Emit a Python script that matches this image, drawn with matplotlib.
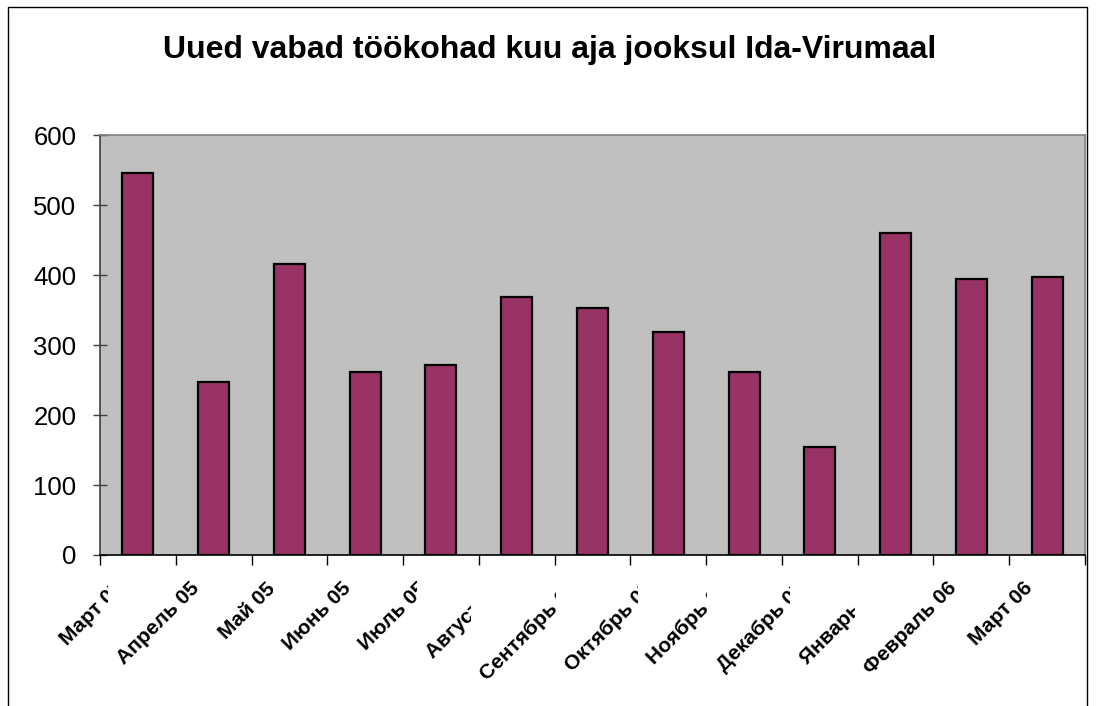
import matplotlib
matplotlib.use("Agg")
import matplotlib.pyplot as plt
import matplotlib.transforms as mtransforms
from matplotlib.patches import Rectangle

plt.rcParams['font.family'] = ['Liberation Sans', 'DejaVu Sans']

# data
months = ['Март 05', 'Апрель 05', 'Май 05', 'Июнь 05', 'Июль 05', 'Август 05',
          'Сентябрь 05', 'Октябрь 05', 'Ноябрь 05', 'Декабрь 05', 'Январь 06',
          'Февраль 06', 'Март 06']
jobs = [546, 247, 416, 261, 271, 369, 353, 318, 261, 154, 460, 394, 397]
yticks = [0, 100, 200, 300, 400, 500, 600]

W, H = 1096, 706
fig = plt.figure(figsize=(W / 100, H / 100), dpi=100)
fig.patch.set_facecolor('white')

# chart area border
fig.patches.append(Rectangle((8 / W, -0.01), (1087 - 8) / W, 1.01 - 7 / H,
                             transform=fig.transFigure, fill=False,
                             edgecolor='black', linewidth=1))

ax = fig.add_axes([100 / W, 1 - 555 / H, (1085 - 100) / W, (555 - 135) / H])
ax.set_facecolor('#C0C0C0')

x = list(range(len(months)))
ax.bar(x, jobs, width=0.41, color='#993366', edgecolor='black', linewidth=1.6)

ax.set_xlim(-0.5, len(months) - 0.5)
ax.set_ylim(0, 600)
ax.set_yticks(yticks)
ax.set_yticklabels([str(v) for v in yticks], fontsize=18.5)
ax.tick_params(axis='y', direction='inout', length=10, width=1, pad=12,
               color='#404040')

# category labels, tick marks at category boundaries
ax.set_xticks(x)
ax.set_xticklabels(months, rotation=45, ha='right', va='top',
                   rotation_mode='anchor', fontsize=15, fontweight='bold')
ax.tick_params(axis='x', which='major', length=0, pad=17)
shift = mtransforms.ScaledTranslation(-24 / 100, 0, fig.dpi_scale_trans)
for lbl in ax.get_xticklabels():
    lbl.set_transform(lbl.get_transform() + shift)
ax.set_xticks([i - 0.5 for i in range(len(months) + 1)], minor=True)
ax.tick_params(axis='x', which='minor', direction='out', length=7, width=1,
               color='black')

ax.spines['left'].set_color('#404040')
ax.spines['bottom'].set_color('black')
ax.spines['top'].set_color('#808080')
ax.spines['right'].set_color('#808080')
for s in ax.spines.values():
    s.set_linewidth(1.2)

fig.text(550 / W, 1 - 50 / H, 'Uued vabad töökohad kuu aja jooksul Ida-Virumaal',
         ha='center', va='center', fontsize=23, fontweight='bold')

# like the original, a label gets cut where the next label's box starts
fig.canvas.draw()
renderer = fig.canvas.get_renderer()
labels = ax.get_xticklabels()
for cur, nxt in zip(labels[:-1], labels[1:]):
    ext = nxt.get_window_extent(renderer)
    cur.set_clip_box(mtransforms.Bbox.from_extents(0, 0, ext.x0 - 6, H))
    cur.set_clip_on(True)

fig.savefig('out.png', dpi=100)
